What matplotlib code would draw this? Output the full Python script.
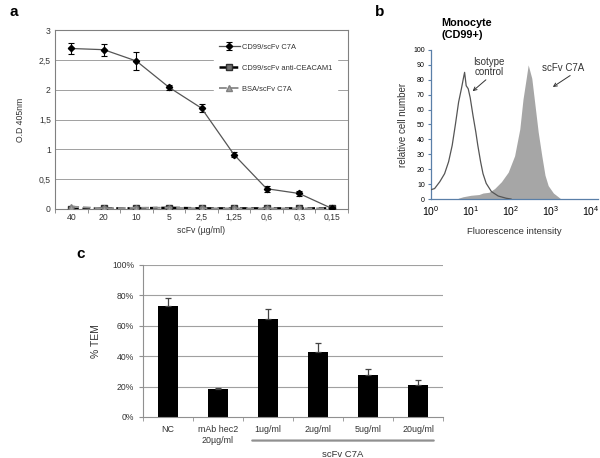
import matplotlib
matplotlib.use("Agg")
import matplotlib.pyplot as plt
import numpy as np

plt.rcParams['font.family'] = ['Liberation Sans', 'DejaVu Sans']
plt.rcParams['mathtext.fontset'] = 'custom'
plt.rcParams['mathtext.rm'] = 'Liberation Sans'
plt.rcParams['mathtext.it'] = 'Liberation Sans'

# ---------------- Panel a data ----------------
conc_labels = ["40", "20", "10", "5", "2,5", "1,25", "0,6", "0,3", "0,15"]
cd99_c7a = [2.69, 2.67, 2.48, 2.04, 1.69, 0.91, 0.34, 0.26, 0.01]
cd99_c7a_err = [0.09, 0.10, 0.15, 0.04, 0.07, 0.04, 0.05, 0.04, 0.0]
cd99_ceacam = [0.0, 0.01, 0.01, 0.02, 0.01, 0.01, 0.01, 0.01, 0.01]
bsa_c7a = [0.04, 0.01, 0.02, 0.02, 0.01, 0.01, 0.01, 0.01, 0.01]
series_labels_a = ["CD99/scFv C7A", "CD99/scFv anti-CEACAM1", "BSA/scFv C7A"]
yticks_a = [0, 0.5, 1, 1.5, 2, 2.5, 3]
ytick_labels_a = ["0", "0,5", "1", "1,5", "2", "2,5", "3"]

# ---------------- Panel b data ----------------
iso_log = [-0.03, 0.09, 0.22, 0.34, 0.44, 0.53, 0.61, 0.69, 0.76, 0.81, 0.84,
           0.88, 0.93, 0.98, 1.05, 1.12, 1.17, 1.24, 1.30, 1.38, 1.51, 1.68, 1.88, 2.0]
iso_val = [6, 7, 11.6, 17, 25, 36, 50, 65, 74, 81, 85,
           76, 74, 68, 56, 45, 36, 25, 17, 10.5, 5, 2, 0.5, 0]
c7a_log = [0.68, 0.8, 1.0, 1.2, 1.3, 1.45, 1.59, 1.76, 1.93, 2.09, 2.22, 2.30, 2.38,
           2.43, 2.52, 2.60, 2.68, 2.77, 2.85, 2.93, 3.06, 3.18, 3.25]
c7a_val = [0.5, 1.5, 2.5, 3, 4, 4.5, 7, 11.6, 18, 29, 47, 67, 81,
           90, 81, 63, 45, 29, 16, 9, 4, 1.5, 0]

# ---------------- Panel c data ----------------
groups_c = ["NC", "mAb hec2\n20µg/ml", "1ug/ml", "2ug/ml", "5ug/ml", "20ug/ml"]
tem = [0.73, 0.182, 0.642, 0.43, 0.274, 0.208]
tem_err = [0.05, 0.006, 0.066, 0.059, 0.04, 0.033]

W, H = 600, 458
fig = plt.figure(figsize=(6.0, 4.58), dpi=100)

def ax_px(l, t, r, b):
    return fig.add_axes([l / W, 1 - b / H, (r - l) / W, (b - t) / H])

def fpx(px, py):
    return (px / W, 1 - py / H)

grid_c = "#a0a0a0"
txt_c = "#333333"

# ================= Panel a =================
axa = ax_px(55, 30, 348, 209)
x = np.arange(len(conc_labels))
axa.set_xlim(-0.5, len(conc_labels) - 0.5)
axa.set_ylim(0, 3)
for yv in yticks_a[1:]:
    axa.axhline(yv, color=grid_c, lw=0.7, zorder=0)
l1 = axa.errorbar(x, cd99_c7a, yerr=cd99_c7a_err, color="#555555", lw=0.9,
                  marker="D", ms=3.2, mfc="black", mec="black",
                  ecolor="black", elinewidth=0.8, capsize=2.2, capthick=0.8, zorder=4,
                  label=series_labels_a[0])
l2, = axa.plot(x, cd99_ceacam, color="black", lw=1.8, ls=(0, (3, 1.5)),
               marker="s", ms=4.5, mfc="#707070", mec="#303030", zorder=3,
               label=series_labels_a[1])
l3, = axa.plot(x, bsa_c7a, color="#909090", lw=1.4, ls=(0, (4, 2)),
               marker="^", ms=4, mfc="#a0a0a0", mec="#808080", zorder=3,
               label=series_labels_a[2])
axa.set_yticks(yticks_a)
axa.set_yticklabels(ytick_labels_a)
axa.set_xticks(x)
axa.set_xticklabels(conc_labels)
axa.set_xticks(np.arange(-0.5, len(conc_labels)), minor=True)
axa.tick_params(axis="both", labelsize=6.2, colors=txt_c, length=0, pad=3)
axa.tick_params(axis="x", which="minor", length=3, color="#808080")
axa.tick_params(axis="x", which="major", length=0)
for s in axa.spines.values():
    s.set_color("#808080")
    s.set_linewidth(0.8)
axa.set_ylabel("O.D 405nm", fontsize=6.2, color=txt_c, labelpad=10)
axa.set_xlabel("scFv (µg/ml)", fontsize=6.2, color=txt_c, labelpad=3)
leg = axa.legend(handles=[l1, l2, l3], loc="upper left",
                 bbox_to_anchor=(0.53, 0.97), fontsize=5.4, frameon=True,
                 edgecolor="white", facecolor="white", framealpha=1,
                 handlelength=2.8, labelspacing=1.85, borderpad=0.6,
                 handletextpad=0.3)
for t in leg.get_texts():
    t.set_color(txt_c)
fig.text(10 / W, 1 - 12 / H, "a", fontsize=11, fontweight="bold", va="center")

# ================= Panel b =================
axb = ax_px(431, 50, 598, 199)
axb.set_xscale("log")
axb.set_xlim(1, 10 ** 4.175)
axb.set_ylim(0, 100)
cx = [10 ** v for v in c7a_log]
axb.fill_between(cx, 0, c7a_val, color="#a6a6a6", lw=0, zorder=2)
ix = [10 ** v for v in iso_log]
axb.plot(ix, iso_val, color="#555555", lw=0.9, zorder=3)
axb.set_yticks(np.arange(0, 101, 10))
axb.set_xticks([1, 10, 100, 1000, 10000])
axb.set_xticklabels(["$10^0$", "$10^1$", "$10^2$", "$10^3$", "$10^4$"])
axb.xaxis.set_minor_locator(matplotlib.ticker.NullLocator())
axb.tick_params(axis="y", labelsize=5, length=2.5, color="#5a7fa8", pad=2)
axb.tick_params(axis="x", labelsize=7.5, length=0, pad=4)
for s in ["top", "right"]:
    axb.spines[s].set_visible(False)
for s in ["left", "bottom"]:
    axb.spines[s].set_color("#5a7fa8")
    axb.spines[s].set_linewidth(0.9)
axb.set_ylabel("relative cell number", fontsize=7, color=txt_c, labelpad=4)
axb.set_xlabel("Fluorescence intensity", fontsize=6.8, color=txt_c, labelpad=6)
fig.text(441 / W, 1 - 29 / H, "Monocyte\n(CD99+)", fontsize=7.8,
         fontweight="bold", va="center", ha="left", linespacing=1.15)
fig.text(375 / W, 1 - 12 / H, "b", fontsize=11, fontweight="bold", va="center")
# annotations (text + arrows)
fig.text(*fpx(489, 67), "Isotype\ncontrol", fontsize=7, ha="center",
         va="center", color=txt_c, linespacing=1.1)
fig.add_artist(matplotlib.patches.FancyArrowPatch(
    fpx(488, 78), fpx(470.5, 93), transform=fig.transFigure,
    arrowstyle="->", mutation_scale=6, color=txt_c, lw=0.7))
fig.text(*fpx(563, 68), "scFv C7A", fontsize=7, ha="center", va="center",
         color=txt_c)
fig.add_artist(matplotlib.patches.FancyArrowPatch(
    fpx(572.5, 74), fpx(550.5, 88.5), transform=fig.transFigure,
    arrowstyle="->", mutation_scale=6, color=txt_c, lw=0.7))

# ================= Panel c =================
axc = ax_px(143, 265, 443, 417)
xc = np.arange(len(groups_c))
axc.set_xlim(-0.5, len(groups_c) - 0.5)
axc.set_ylim(0, 1.0)
for yv in [0.2, 0.4, 0.6, 0.8, 1.0]:
    axc.axhline(yv, color=grid_c, lw=0.8, zorder=0)
axc.bar(xc, tem, width=0.4, color="black", zorder=2)
axc.errorbar(xc, tem, yerr=[[0] * len(tem), tem_err], fmt="none",
             ecolor="#444444", elinewidth=0.9, capsize=2.5, capthick=0.9, zorder=3)
axc.set_yticks([0, 0.2, 0.4, 0.6, 0.8, 1.0])
axc.set_yticklabels(["0%", "20%", "40%", "60%", "80%", "100%"])
axc.set_xticks(xc)
axc.set_xticklabels(groups_c)
axc.set_xticks(np.arange(-0.5, len(groups_c)), minor=True)
axc.tick_params(axis="x", which="major", length=0, labelsize=6.4, pad=6,
                colors=txt_c)
axc.tick_params(axis="x", which="minor", length=3, color="#909090")
axc.tick_params(axis="y", labelsize=6.2, length=3, color="#909090",
                labelcolor=txt_c)
for s in ["top", "right"]:
    axc.spines[s].set_visible(False)
for s in ["left", "bottom"]:
    axc.spines[s].set_color("#909090")
    axc.spines[s].set_linewidth(0.8)
axc.set_ylabel("% TEM", fontsize=7.5, color=txt_c, labelpad=8)
# bracket for scFv C7A group
axc.annotate("", xy=(1.63, -0.155), xytext=(5.37, -0.155), xycoords="data",
             annotation_clip=False,
             arrowprops=dict(arrowstyle="-", color="#909090", lw=1.6))
axc.text(3.5, -0.245, "scFv C7A", fontsize=6.8, ha="center", va="center",
         color=txt_c, clip_on=False)
fig.text(76 / W, 1 - 254 / H, "c", fontsize=11, fontweight="bold", va="center")

fig.savefig("out.png", dpi=100)
